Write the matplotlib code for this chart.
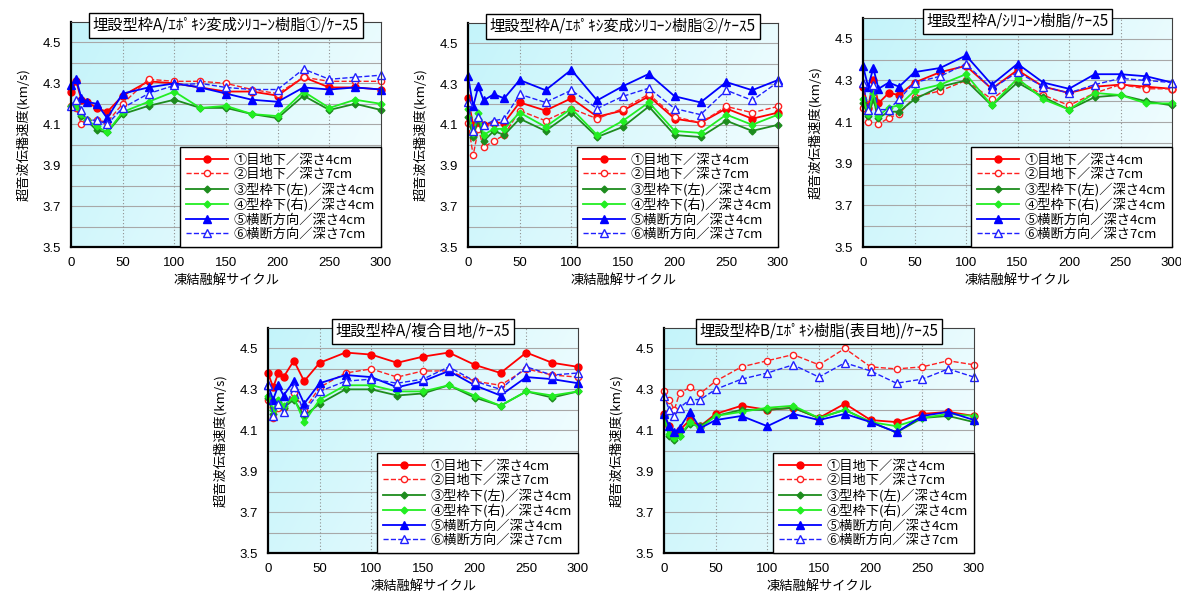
import numpy as np
import matplotlib
matplotlib.use('Agg')
import matplotlib.pyplot as plt

plt.rcParams['font.family'] = ['Noto Sans CJK JP', 'DejaVu Sans']

# data
cycles = [0, 5, 10, 15, 25, 35, 50, 75, 100, 125, 150, 175, 200, 225, 250, 275, 300]

labels = ['①目地下／深さ4cm', '②目地下／深さ7cm', '③型枠下(左)／深さ4cm',
          '④型枠下(右)／深さ4cm', '⑤横断方向／深さ4cm', '⑥横断方向／深さ7cm']

titles = ['埋設型枠A/ｴﾎﾟｷｼ変成ｼﾘｺｰﾝ樹脂①/ｹｰｽ5',
          '埋設型枠A/ｴﾎﾟｷｼ変成ｼﾘｺｰﾝ樹脂②/ｹｰｽ5',
          '埋設型枠A/ｼﾘｺｰﾝ樹脂/ｹｰｽ5',
          '埋設型枠A/複合目地/ｹｰｽ5',
          '埋設型枠B/ｴﾎﾟｷｼ樹脂(表目地)/ｹｰｽ5']

epoxy_si_1 = [
    [4.26, 4.31, 4.22, 4.21, 4.18, 4.16, 4.24, 4.31, 4.30, 4.28, 4.26, 4.26, 4.24, 4.33, 4.28, 4.28, 4.27],
    [4.19, 4.18, 4.10, 4.12, 4.12, 4.11, 4.20, 4.32, 4.31, 4.31, 4.30, 4.27, 4.25, 4.33, 4.31, 4.31, 4.31],
    [4.19, 4.19, 4.14, 4.12, 4.07, 4.06, 4.15, 4.19, 4.22, 4.18, 4.18, 4.15, 4.13, 4.24, 4.17, 4.20, 4.17],
    [4.19, 4.19, 4.15, 4.12, 4.09, 4.06, 4.16, 4.21, 4.26, 4.18, 4.19, 4.15, 4.14, 4.26, 4.18, 4.22, 4.20],
    [4.29, 4.32, 4.23, 4.21, 4.20, 4.13, 4.25, 4.28, 4.30, 4.28, 4.25, 4.22, 4.21, 4.28, 4.27, 4.28, 4.27],
    [4.19, 4.22, 4.17, 4.12, 4.12, 4.10, 4.18, 4.25, 4.29, 4.30, 4.28, 4.27, 4.27, 4.37, 4.32, 4.33, 4.34],
]
epoxy_si_2 = [
    [4.23, 4.10, 4.10, 4.10, 4.11, 4.11, 4.21, 4.17, 4.23, 4.14, 4.17, 4.24, 4.13, 4.11, 4.18, 4.13, 4.16],
    [4.11, 3.95, 4.08, 3.99, 4.02, 4.05, 4.17, 4.12, 4.18, 4.13, 4.18, 4.25, 4.14, 4.11, 4.19, 4.16, 4.19],
    [4.14, 4.04, 4.13, 4.02, 4.07, 4.05, 4.13, 4.07, 4.16, 4.04, 4.09, 4.19, 4.05, 4.04, 4.12, 4.07, 4.10],
    [4.18, 4.06, 4.16, 4.05, 4.08, 4.08, 4.16, 4.09, 4.18, 4.05, 4.12, 4.21, 4.07, 4.06, 4.15, 4.10, 4.15],
    [4.34, 4.19, 4.29, 4.22, 4.25, 4.23, 4.32, 4.27, 4.37, 4.22, 4.29, 4.35, 4.24, 4.21, 4.31, 4.27, 4.32],
    [4.21, 4.07, 4.14, 4.10, 4.12, 4.13, 4.25, 4.21, 4.27, 4.18, 4.24, 4.28, 4.18, 4.15, 4.27, 4.22, 4.31],
]
silicone = [
    [4.27, 4.17, 4.30, 4.19, 4.24, 4.23, 4.29, 4.34, 4.37, 4.26, 4.35, 4.27, 4.24, 4.27, 4.28, 4.27, 4.26],
    [4.17, 4.10, 4.22, 4.09, 4.12, 4.14, 4.22, 4.25, 4.30, 4.21, 4.30, 4.23, 4.18, 4.24, 4.28, 4.26, 4.26],
    [4.19, 4.13, 4.21, 4.12, 4.15, 4.15, 4.21, 4.27, 4.30, 4.18, 4.29, 4.22, 4.16, 4.22, 4.23, 4.20, 4.18],
    [4.21, 4.14, 4.24, 4.13, 4.17, 4.18, 4.25, 4.28, 4.33, 4.18, 4.31, 4.21, 4.16, 4.24, 4.23, 4.19, 4.19],
    [4.37, 4.27, 4.36, 4.26, 4.29, 4.27, 4.34, 4.36, 4.42, 4.28, 4.38, 4.29, 4.26, 4.33, 4.33, 4.32, 4.29],
    [4.29, 4.16, 4.28, 4.16, 4.16, 4.21, 4.29, 4.32, 4.38, 4.26, 4.34, 4.27, 4.24, 4.28, 4.31, 4.30, 4.29],
]
composite = [
    [4.38, 4.31, 4.38, 4.36, 4.44, 4.34, 4.43, 4.48, 4.47, 4.43, 4.46, 4.48, 4.42, 4.38, 4.48, 4.43, 4.41],
    [4.25, 4.16, 4.21, 4.21, 4.28, 4.20, 4.31, 4.38, 4.40, 4.36, 4.39, 4.39, 4.34, 4.32, 4.40, 4.37, 4.36],
    [4.26, 4.18, 4.24, 4.21, 4.25, 4.17, 4.23, 4.30, 4.30, 4.27, 4.28, 4.32, 4.26, 4.22, 4.29, 4.26, 4.29],
    [4.27, 4.20, 4.25, 4.22, 4.26, 4.14, 4.25, 4.32, 4.32, 4.29, 4.29, 4.32, 4.27, 4.22, 4.29, 4.27, 4.29],
    [4.32, 4.25, 4.32, 4.27, 4.34, 4.23, 4.33, 4.37, 4.36, 4.31, 4.34, 4.39, 4.32, 4.27, 4.36, 4.35, 4.33],
    [4.32, 4.17, 4.23, 4.19, 4.31, 4.19, 4.29, 4.34, 4.35, 4.33, 4.35, 4.41, 4.34, 4.30, 4.41, 4.37, 4.38],
]
epoxy_b = [
    [4.18, 4.12, 4.08, 4.10, 4.15, 4.12, 4.18, 4.22, 4.20, 4.21, 4.16, 4.23, 4.15, 4.14, 4.18, 4.19, 4.17],
    [4.29, 4.25, 4.20, 4.28, 4.31, 4.28, 4.34, 4.41, 4.44, 4.47, 4.42, 4.50, 4.41, 4.40, 4.41, 4.44, 4.42],
    [4.17, 4.07, 4.05, 4.07, 4.13, 4.12, 4.17, 4.20, 4.20, 4.21, 4.16, 4.20, 4.14, 4.09, 4.16, 4.17, 4.14],
    [4.17, 4.08, 4.06, 4.07, 4.14, 4.11, 4.17, 4.19, 4.21, 4.22, 4.16, 4.20, 4.14, 4.12, 4.16, 4.18, 4.17],
    [4.18, 4.12, 4.09, 4.11, 4.19, 4.11, 4.15, 4.17, 4.12, 4.18, 4.15, 4.18, 4.14, 4.09, 4.17, 4.19, 4.15],
    [4.27, 4.20, 4.17, 4.21, 4.25, 4.25, 4.30, 4.35, 4.38, 4.42, 4.36, 4.43, 4.39, 4.33, 4.35, 4.40, 4.36],
]

panels = [epoxy_si_1, epoxy_si_2, silicone, composite, epoxy_b]

# axes boxes in pixels: left, right, top, bottom
boxes = [(71, 381, 22, 247), (468, 778, 23, 247), (863, 1172, 18, 247),
         (268, 578, 328, 553), (664, 974, 328, 553)]

styles = [
    dict(color='#ff0000', ls='-', lw=1.3, marker='o', ms=5, mfc='#ff0000'),
    dict(color='#ff2020', ls='--', lw=1.0, marker='o', ms=4.5, mfc='white'),
    dict(color='#1e8c1e', ls='-', lw=1.3, marker='D', ms=3.5, mfc='#1e8c1e'),
    dict(color='#22ee22', ls='-', lw=1.3, marker='D', ms=3.5, mfc='#22ee22'),
    dict(color='#0000ff', ls='-', lw=1.3, marker='^', ms=6, mfc='#0000ff'),
    dict(color='#2020ff', ls='--', lw=1.0, marker='^', ms=6, mfc='white'),
]

W, H = 1181, 593
fig = plt.figure(figsize=(W / 100, H / 100), dpi=100)

# background gradient (cyan on the left fading to almost white)
gx = np.linspace(0, 1, 200)
gy = np.linspace(0, 1, 100)
GX, GY = np.meshgrid(gx, gy)
t = np.clip(0.8 * GX + 0.3 * GY, 0, 1)
c0 = np.array([196, 244, 250]) / 255
c1 = np.array([242, 253, 255]) / 255
grad = c0[None, None, :] * (1 - t[..., None]) + c1[None, None, :] * t[..., None]

for vals, title, (l, r, tp, b) in zip(panels, titles, boxes):
    ax = fig.add_axes([l / W, 1 - b / H, (r - l) / W, (b - tp) / H])
    ax.imshow(grad, extent=(0, 1, 0, 1), transform=ax.transAxes, aspect='auto',
              zorder=0, origin='upper')
    for y in np.arange(3.6, 4.6, 0.1):
        ax.axhline(y, color='#a8a8a8', lw=0.8, zorder=0.5)
    for x in range(50, 300, 50):
        ax.axvline(x, color='#909090', lw=0.8, ls=(0, (1, 2)), zorder=0.5)

    for s, st, lab in zip(vals, styles, labels):
        ax.plot(cycles, s, label=lab, mec=st['color'], mew=1.0, zorder=3,
                clip_on=False, **st)

    ax.set_xlim(0, 300)
    ax.set_ylim(3.5, 4.6)
    ax.set_xticks(range(0, 301, 50))
    ax.set_yticks([3.5, 3.7, 3.9, 4.1, 4.3, 4.5])
    ax.set_yticklabels(['3.5', '3.7', '3.9', '4.1', '4.3', '4.5'])
    ax.tick_params(length=0, labelsize=9.5, pad=7)
    for tl in ax.get_xticklabels() + ax.get_yticklabels():
        tl.set_family(['Liberation Sans', 'DejaVu Sans'])
    for sp in ['top', 'right']:
        ax.spines[sp].set_linewidth(0.8)
        ax.spines[sp].set_color('#404040')
    for sp in ['left', 'bottom']:
        ax.spines[sp].set_linewidth(1.6)
    for sp in ax.spines.values():
        sp.set_zorder(4)

    ax.set_xlabel('凍結融解サイクル', fontsize=9.5, labelpad=4)
    ax.set_ylabel('超音波伝播速度(km/s)', fontsize=9.5, labelpad=9)

    ax.text(0.5, 0.985, title, transform=ax.transAxes, ha='center', va='center',
            fontsize=11, zorder=6,
            bbox=dict(boxstyle='square,pad=0.25', facecolor='white',
                      edgecolor='black', lw=1.0))

    leg = ax.legend(loc='lower right', borderaxespad=0, fontsize=9.5,
                    fancybox=False, framealpha=1, edgecolor='black',
                    handlelength=3.2, labelspacing=0.12, borderpad=0.45,
                    handletextpad=0.4)
    leg.get_frame().set_linewidth(1.0)
    leg.set_zorder(5)

fig.savefig('out.png', dpi=100)
